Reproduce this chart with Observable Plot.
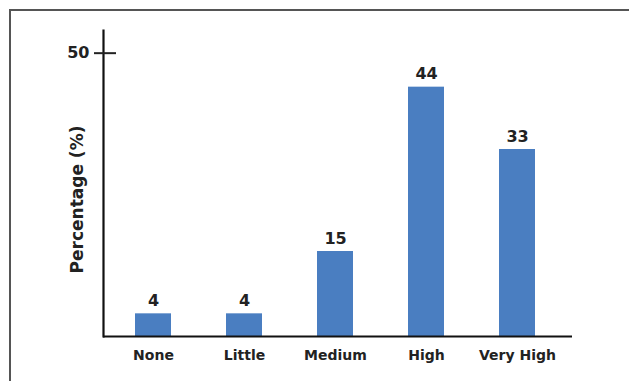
<!DOCTYPE html>
<html>
<head>
<meta charset="utf-8">
<script src="https://cdn.jsdelivr.net/npm/d3@7"></script>
<script src="https://cdn.jsdelivr.net/npm/@observablehq/plot@0.6"></script>
<style>
  html, body { margin: 0; padding: 0; background: #fff; overflow: hidden; }
  #wrap { position: relative; width: 629px; height: 381px; }
  #wrap svg { position: absolute; left: 0; top: 0; }
  #border { position: absolute; left: 9px; top: 9px; width: 700px; height: 500px;
            border-left: 2px solid #555; border-top: 2px solid #555; pointer-events: none; }
</style>
</head>
<body>
<div id="wrap"><div id="border"></div></div>
<script>
const categories = ["None", "Little", "Medium", "High", "Very High"];
const values = [4, 4, 15, 44, 33];
const yTicks = [50];
const yLabel = "Percentage (%)";

const data = categories.map((c, i) => ({category: c, value: values[i]}));
const font = "DejaVu Sans, Liberation Sans, Arial, sans-serif";

const chart = Plot.plot({
  width: 629,
  height: 381,
  marginLeft: 103,
  marginRight: 57,
  marginTop: 30,
  marginBottom: 45,
  style: {fontFamily: font, background: "#fff", color: "#222"},
  x: {type: "band", domain: categories, paddingInner: 0.608, paddingOuter: 0.358, align: 0.46},
  y: {domain: [0, 54]},
  marks: [
    Plot.barY(data, {x: "category", y: "value", fill: "#4a7ec1"}),
    Plot.text(data, {x: "category", y: "value", text: d => String(d.value), dy: -8, lineAnchor: "bottom",
      fontSize: 16, fontWeight: "bold", fill: "#222"}),
    Plot.ruleY([0], {stroke: "#111", strokeWidth: 2.2}),
    Plot.frame({anchor: "left", stroke: "#111", strokeWidth: 2.2}),
    Plot.axisY({ticks: yTicks, tickSize: 22, dx: 13, tickFormat: () => "", label: null, strokeWidth: 2, stroke: "#222"}),
    Plot.axisY({ticks: yTicks, tickSize: 0, tickPadding: 14, label: null, fontSize: 16, fontWeight: "bold", fill: "#222"}),
    Plot.axisX({tickSize: 0, tickPadding: 14, label: null, fontSize: 14, fontWeight: "bold", fill: "#222"}),
    Plot.text([yLabel], {frameAnchor: "left", textAnchor: "middle", rotate: -90, dx: -26, dy: 16, fontSize: 17, fontWeight: "bold", fill: "#222"})
  ]
});
document.getElementById("wrap").prepend(chart);
</script>
</body>
</html>
